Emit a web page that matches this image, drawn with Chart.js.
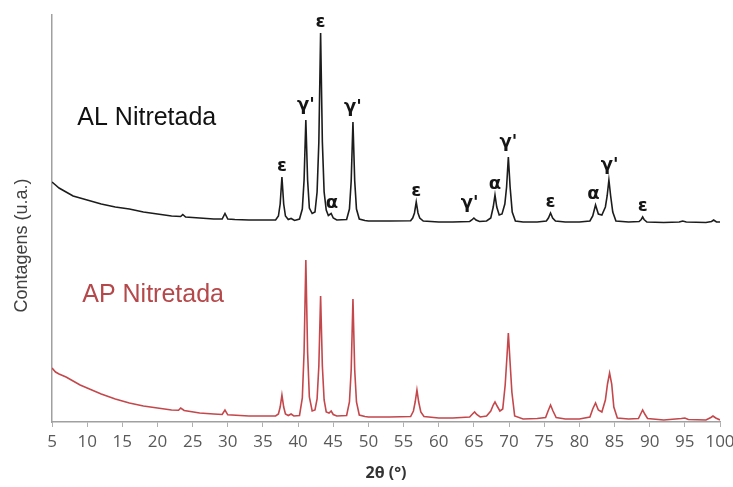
<!DOCTYPE html>
<html>
<head>
<meta charset="utf-8">
<script src="https://cdn.jsdelivr.net/npm/chart.js@4.4.0/dist/chart.umd.min.js"></script>
<style>
  html, body { margin: 0; padding: 0; background: #fff; }
  #wrap { width: 733px; height: 487px; position: relative; }
</style>
</head>
<body>
<div id="wrap"><canvas id="xrd"></canvas></div>
<script>
// AL Nitretada (preto, deslocado para cima)
const alAngles = [
  5, 5.5, 6, 7, 8, 9, 10, 12, 14, 16, 18, 20, 22, 23.3, 23.6, 24, 26, 28, 29.2, 29.6, 30, 31, 33, 35, 36.8,
  37.2, 37.45, 37.7, 37.95, 38.2, 38.6, 39.0, 39.5, 40.2, 40.6, 40.85, 41.1, 41.35, 41.6, 42.0, 42.4, 42.7,
  42.95, 43.2, 43.45, 43.7, 44.0, 44.3, 44.7, 45.0, 45.5, 46.9, 47.3, 47.55, 47.8, 48.05, 48.3, 48.7, 49.5,
  50, 53, 56.0, 56.3, 56.55, 56.8, 57.05, 57.3, 57.8, 60, 62, 64.4, 64.7, 65.0, 65.3, 65.8, 66.8, 67.4, 67.75,
  68.0, 68.25, 68.6, 69.0, 69.4, 69.65, 69.9, 70.15, 70.45, 70.9, 72, 74, 75.3, 75.6, 75.9, 76.2, 76.6, 78, 80,
  81.5, 81.9, 82.3, 82.7, 83.2, 83.7, 83.95, 84.2, 84.45, 84.75, 85.2, 87, 88.5, 88.8, 89.0, 89.2, 89.6, 92,
  94.2, 94.7, 95.2, 98, 98.8, 99.1, 99.5, 100,
];
const alCounts = [
  2400, 2370, 2340, 2300, 2260, 2240, 2220, 2180, 2150, 2130, 2100, 2080, 2060, 2055, 2075, 2050, 2040, 2030, 2030, 2085, 2030, 2025, 2020, 2020, 2020,
  2060, 2180, 2450, 2180, 2060, 2025, 2035, 2015, 2030, 2130, 2420, 3020, 2420, 2140, 2085, 2100, 2300,
  2800, 3890, 2800, 2300, 2120, 2065, 2085, 2040, 2020, 2025, 2130, 2410, 3000, 2410, 2130, 2030, 2015,
  2010, 2010, 2012, 2040, 2090, 2200, 2090, 2040, 2010, 2000, 2000, 2005, 2020, 2040, 2020, 2005, 2010, 2040, 2150,
  2270, 2150, 2070, 2080, 2180, 2350, 2650, 2350, 2100, 2010, 2000, 2000, 2010, 2040, 2090, 2040, 2010, 2000, 2000,
  2010, 2060, 2170, 2080, 2070, 2150, 2260, 2420, 2260, 2100, 2010, 2000, 2005, 2025, 2050, 2025, 2000, 1995,
  2000, 2010, 2000, 1995, 2005, 2020, 2000, 2000,
];

// AP Nitretada (vermelho)
const apAngles = [
  5, 5.5, 6, 7, 8, 9, 10, 12, 14, 16, 18, 20, 22, 23.0, 23.3, 23.8, 26, 28, 29.2, 29.6, 30.0, 33, 36.8,
  37.2, 37.45, 37.7, 37.95, 38.2, 38.6, 39.0, 39.4, 40.2, 40.6, 40.85, 41.1, 41.35, 41.6, 42.0, 42.4, 42.7,
  42.95, 43.2, 43.45, 43.7, 44.0, 44.4, 44.7, 45.0, 45.5, 46.9, 47.3, 47.55, 47.8, 48.05, 48.3, 48.7, 49.5,
  50, 53, 56.0, 56.4, 56.65, 56.9, 57.15, 57.45, 57.9, 60, 62, 64.4, 64.8, 65.1, 65.4, 65.9, 66.8, 67.4, 67.75,
  68.0, 68.3, 68.7, 69.1, 69.45, 69.7, 69.9, 70.1, 70.4, 70.8, 72, 74, 75.2, 75.55, 75.9, 76.25, 76.7, 78, 80,
  81.5, 81.9, 82.3, 82.7, 83.2, 83.7, 84.0, 84.3, 84.6, 84.9, 85.4, 87, 88.4, 88.75, 89.0, 89.3, 89.7, 92,
  94.5, 95.0, 95.5, 98, 98.7, 99.0, 99.4, 100,
];
const apCounts = [
  540, 500, 480, 450, 410, 370, 340, 280, 230, 190, 160, 140, 120, 118, 140, 115, 90, 80, 75, 120, 72, 60, 60,
  80, 150, 270, 150, 80, 65, 80, 60, 65, 240, 700, 1620, 700, 250, 110, 120, 230,
  560, 1260, 560, 220, 100, 90, 110, 75, 60, 65, 200, 520, 1230, 520, 200, 70, 55,
  50, 50, 55, 110, 200, 320, 200, 100, 55, 40, 40, 50, 80, 100, 75, 50, 60, 110, 170,
  200, 160, 110, 130, 370, 650, 890, 650, 300, 60, 30, 35, 45, 110, 170, 110, 45, 30, 30,
  50, 130, 190, 120, 100, 220, 380, 490, 380, 150, 40, 30, 35, 85, 120, 80, 35, 20,
  35, 40, 25, 20, 45, 60, 40, 20,
];

// fases identificadas sobre o difratograma AL
const phaseAngles = [37.7, 41.1, 43.2, 44.8, 47.8, 56.8, 64.4, 68.0, 69.9, 75.9, 82.0, 84.3, 89.0];
const phaseNames = ["ε", "γ'", "ε", "α", "γ'", "ε", "γ'", "α", "γ'", "ε", "α", "γ'", "ε"];

const seriesNames = ["AL Nitretada", "AP Nitretada"];

const rotulos = {
  id: "rotulos",
  afterDatasetsDraw(chart) {
    const { ctx, scales: { x, y } } = chart;
    ctx.save();

    // letras das fases acima dos picos
    ctx.font = "bold 18px 'DejaVu Sans'";
    ctx.fillStyle = "#151515";
    ctx.textAlign = "center";
    ctx.textBaseline = "alphabetic";
    phaseAngles.forEach((a, i) => {
      let pico = 0;
      alAngles.forEach((ang, j) => {
        if (Math.abs(ang - a) <= 0.7) pico = Math.max(pico, alCounts[j]);
      });
      const m = ctx.measureText(phaseNames[i]);
      ctx.fillText(phaseNames[i], x.getPixelForValue(a), y.getPixelForValue(pico) - 6 - m.actualBoundingBoxDescent);
    });

    // nomes das amostras
    ctx.font = "25px 'Liberation Sans'";
    ctx.textAlign = "left";
    ctx.textBaseline = "middle";
    ctx.fillStyle = "#111";
    ctx.fillText(seriesNames[0], x.getPixelForValue(8.6), y.getPixelForValue(3040));
    ctx.fillStyle = "#b5484a";
    ctx.fillText(seriesNames[1], x.getPixelForValue(9.3), y.getPixelForValue(1270));

    // titulo do eixo y
    ctx.translate(y.left + 22, (y.top + y.bottom) / 2 + 27);
    ctx.rotate(-Math.PI / 2);
    ctx.textAlign = "center";
    ctx.fillStyle = "#404040";
    ctx.font = "18px 'Liberation Sans'";
    ctx.fillText("Contagens (u.a.)", 0, 0);
    ctx.restore();
  },
};

window.addEventListener("DOMContentLoaded", () => {
  const ctx = document.getElementById("xrd").getContext("2d");
  new Chart(ctx, {
    type: "line",
    data: {
      datasets: [
        {
          label: seriesNames[0],
          data: alAngles.map((x, i) => ({ x, y: alCounts[i] })),
          borderColor: "#1c1c1c",
          borderWidth: 1.6,
          pointRadius: 0,
          tension: 0,
        },
        {
          label: seriesNames[1],
          data: apAngles.map((x, i) => ({ x, y: apCounts[i] })),
          borderColor: "#c4474b",
          borderWidth: 1.6,
          pointRadius: 0,
          tension: 0,
        },
      ],
    },
    options: {
      responsive: true,
      maintainAspectRatio: false,
      animation: false,
      layout: { padding: { top: 15, right: 13, left: 0, bottom: 0 } },
      plugins: {
        legend: { display: false },
        tooltip: { enabled: false },
      },
      scales: {
        x: {
          type: "linear",
          min: 5,
          max: 100,
          ticks: {
            stepSize: 5,
            autoSkip: false,
            maxRotation: 0,
            color: "#595959",
            font: { family: "'Open Sans'", size: 17 },
            padding: 5,
          },
          grid: { drawOnChartArea: false, drawTicks: true, tickLength: 5, color: "#b0b0b0" },
          border: { color: "#a0a0a0", width: 1.5 },
          title: {
            display: true,
            text: "2θ (°)",
            color: "#333",
            font: { family: "'Open Sans'", size: 16, weight: "bold" },
            padding: { top: 0, bottom: 4 },
          },
          afterFit(s) {
            s.height = 65;
            s.paddingRight = 13;
          },
        },
        y: {
          min: 0,
          max: 4070,
          ticks: { display: false },
          grid: { display: false },
          border: { color: "#a0a0a0", width: 1.5 },
          afterFit(s) {
            s.width = 52;
          },
        },
      },
    },
    plugins: [rotulos],
  });
});
</script>
</body>
</html>
